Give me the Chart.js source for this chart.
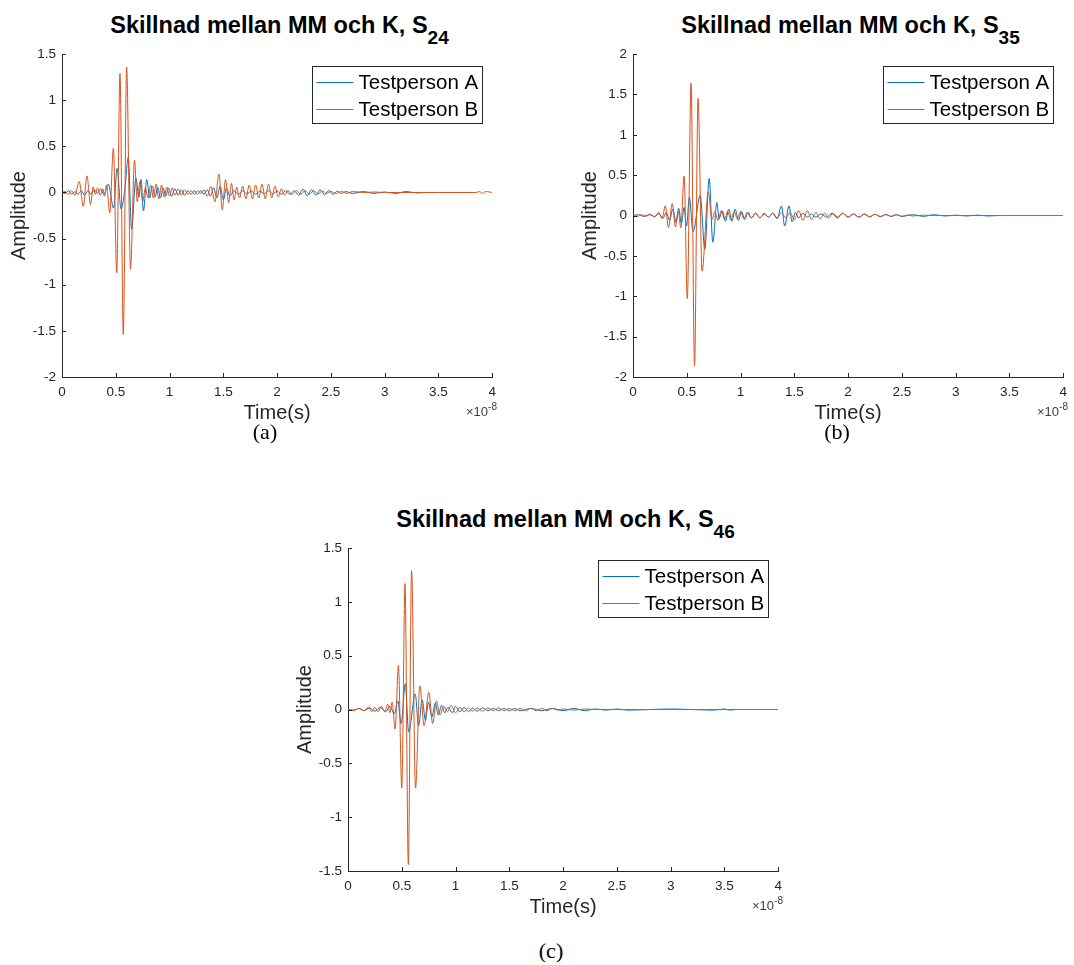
<!DOCTYPE html>
<html>
<head>
<meta charset="utf-8">
<title>Skillnad mellan MM och K</title>
<script src="https://cdn.jsdelivr.net/npm/chart.js@4.4.0/dist/chart.umd.min.js"></script>
<style>
  html, body { margin: 0; padding: 0; background: #fff; }
  body { width: 1074px; height: 965px; position: relative; overflow: hidden; font-family: "Liberation Sans", Arial, sans-serif; }
  canvas { position: absolute; }
  .title { position: absolute; font-weight: bold; font-size: 23.5px; line-height: 24px; color: #000; white-space: nowrap; transform: translateX(-50%); }
  .title span { font-size: 19px; position: relative; top: 10.5px; }
  .expo { position: absolute; font-size: 13px; line-height: 13px; color: #404040; white-space: nowrap; }
  .expo sup { font-size: 10px; vertical-align: 6px; line-height: 0; }
  .cap { position: absolute; font-family: "Liberation Serif", "DejaVu Serif", serif; font-size: 22px; line-height: 22px; transform: translateX(-50%); }
</style>
</head>
<body>
<script>
// time in units of 1e-8 s, amplitude

// (a) S24
const timeA24 = [0, 0.03, 0.06, 0.09, 0.12, 0.15, 0.18, 0.21, 0.24, 0.27,
  0.30, 0.33, 0.36, 0.39, 0.43, 0.48, 0.512, 0.549, 0.583, 0.616,
  0.647, 0.687, 0.715, 0.735, 0.757, 0.788, 0.815, 0.84, 0.865, 0.89,
  0.915, 0.94, 0.965, 0.99, 1.02, 1.05, 1.08, 1.11, 1.14, 1.17,
  1.2, 1.23, 1.26, 1.29, 1.32, 1.35, 1.38, 1.41, 1.44, 1.47,
  1.50, 1.53, 1.56, 1.6, 1.64, 1.68, 1.72, 1.76, 1.8, 1.84,
  1.88, 1.92, 1.96, 2.0, 2.04, 2.08, 2.12, 2.16, 2.2, 2.24,
  2.28, 2.32, 2.36, 2.4, 2.44, 2.48, 2.52, 2.56, 2.6, 2.64,
  2.7, 2.8, 2.9, 3.0, 3.1, 3.2, 3.3, 3.36];
const ampA24 = [0, -0.01, 0.02, -0.02, 0.01, -0.02, 0.02, -0.03, 0.02, -0.02,
  0.03, -0.01, 0.04, -0.02, 0.09, -0.17, 0.26, -0.18, 0.02, 0.38,
  -0.40, 0.155, -0.05, 0.14, -0.20, 0.14, -0.06, 0.07, -0.05, 0.06,
  -0.06, 0.05, -0.04, 0.05, -0.04, 0.04, -0.03, 0.03, -0.03, 0.02,
  -0.02, 0.02, -0.02, 0.02, -0.02, 0.03, -0.04, 0.05, -0.06, 0.07,
  -0.08, 0.05, -0.04, 0.02, -0.02, 0.02, -0.015, 0.015, -0.02, 0.015,
  -0.015, 0.02, -0.015, 0.015, -0.02, 0.02, -0.02, 0.02, -0.03, 0.035,
  -0.035, 0.03, -0.03, 0.03, -0.025, 0.02, -0.02, 0.015, -0.01, 0.01,
  -0.01, 0.01, -0.01, 0.005, -0.01, 0.01, -0.005, 0];
const timeB24 = [0, 0.03, 0.06, 0.09, 0.12, 0.16, 0.198, 0.232, 0.265, 0.29,
  0.31, 0.33, 0.355, 0.38, 0.395, 0.414, 0.444, 0.478, 0.509, 0.539,
  0.570, 0.601, 0.637, 0.674, 0.70, 0.725, 0.75, 0.775, 0.80, 0.825,
  0.85, 0.875, 0.90, 0.925, 0.95, 0.975, 1.0, 1.025, 1.05, 1.08,
  1.11, 1.14, 1.17, 1.2, 1.23, 1.26, 1.29, 1.32, 1.35, 1.385,
  1.422, 1.459, 1.49, 1.52, 1.55, 1.575, 1.6, 1.625, 1.65, 1.68,
  1.71, 1.74, 1.77, 1.8, 1.83, 1.86, 1.89, 1.92, 1.95, 1.98,
  2.01, 2.04, 2.07, 2.1, 2.14, 2.18, 2.22, 2.26, 2.3, 2.34,
  2.38, 2.42, 2.46, 2.5, 2.55, 2.6, 2.65, 2.7, 2.8, 2.9,
  3.0, 3.5, 3.85, 3.88, 3.91, 3.94, 4.0];
const ampB24 = [0, 0.01, -0.02, 0.02, -0.03, 0.12, -0.15, 0.18, -0.13, 0.06,
  -0.02, 0.05, -0.03, 0.04, -0.04, 0.08, -0.22, 0.48, -0.87, 1.29,
  -1.54, 1.36, -0.83, 0.35, -0.10, 0.12, -0.10, 0.05, -0.06, 0.08,
  -0.06, 0.09, -0.07, 0.08, -0.05, 0.06, -0.04, 0.05, -0.03, 0.04,
  -0.03, 0.03, -0.02, 0.02, -0.02, 0.02, -0.01, 0.03, -0.04, 0.065,
  -0.10, 0.20, -0.19, 0.14, -0.11, 0.10, -0.08, 0.06, -0.06, 0.07,
  -0.07, 0.08, -0.07, 0.08, -0.06, 0.09, -0.07, 0.09, -0.06, 0.07,
  -0.05, 0.04, -0.03, 0.02, -0.02, 0.02, -0.02, 0.02, -0.02, 0.02,
  -0.015, 0.015, -0.01, 0.01, -0.01, 0.01, -0.01, 0.01, 0, 0.005,
  0, 0, 0, 0.01, -0.01, 0.01, 0];

// (b) S35
const timeA35 = [0, 0.05, 0.1, 0.15, 0.2, 0.24, 0.28, 0.31, 0.34, 0.37,
  0.40, 0.425, 0.45, 0.475, 0.498, 0.524, 0.558, 0.625, 0.668, 0.708,
  0.742, 0.78, 0.80, 0.83, 0.86, 0.89, 0.92, 0.95, 0.98, 1.01,
  1.04, 1.07, 1.1, 1.14, 1.18, 1.22, 1.26, 1.3, 1.34, 1.38,
  1.41, 1.45, 1.48, 1.51, 1.54, 1.58, 1.62, 1.66, 1.7, 1.75,
  1.8, 1.85, 1.9, 1.95, 2.0, 2.05, 2.1, 2.15, 2.2, 2.25,
  2.3, 2.35, 2.4, 2.45, 2.5, 2.6, 2.7, 2.8, 2.9, 3.0,
  3.1, 3.2, 3.3, 3.38];
const ampA35 = [0, 0.01, -0.01, 0.01, -0.01, 0.02, -0.03, 0.04, -0.06, 0.08,
  -0.08, 0.09, -0.10, 0.10, -0.13, 0.23, -0.20, 0.25, -0.42, 0.46,
  -0.33, 0.16, -0.04, 0.06, -0.07, 0.08, -0.07, 0.08, -0.06, 0.05,
  -0.05, 0.04, -0.03, 0.03, -0.03, 0.02, -0.02, 0.03, -0.04, 0.12,
  -0.13, 0.12, -0.08, 0.04, -0.03, 0.03, -0.02, 0.02, -0.02, 0.02,
  -0.02, 0.03, -0.03, 0.03, -0.02, 0.02, -0.02, 0.02, -0.015, 0.015,
  -0.015, 0.015, -0.01, 0.01, -0.01, 0.01, -0.01, 0.01, -0.005, 0.005,
  -0.005, 0.005, -0.005, 0];
const timeB35 = [0, 0.04, 0.08, 0.12, 0.16, 0.2, 0.24, 0.27, 0.30, 0.33,
  0.365, 0.395, 0.42, 0.445, 0.475, 0.505, 0.540, 0.572, 0.605, 0.642,
  0.70, 0.735, 0.76, 0.79, 0.82, 0.85, 0.88, 0.91, 0.94, 0.97,
  1.0, 1.03, 1.06, 1.1, 1.14, 1.18, 1.22, 1.26, 1.3, 1.34,
  1.38, 1.42, 1.46, 1.5, 1.54, 1.58, 1.62, 1.66, 1.7, 1.74,
  1.78, 1.82, 1.86, 1.9, 1.95, 2.0, 2.05, 2.1, 2.15, 2.2,
  2.25, 2.3, 2.35, 2.4, 2.45, 2.5, 2.55, 2.6, 2.7, 2.8,
  2.9, 3.0, 4.0];
const ampB35 = [0, -0.01, 0.01, -0.01, 0.02, -0.02, 0.04, -0.04, 0.12, -0.15,
  0.15, -0.14, 0.05, -0.15, 0.49, -1.03, 1.64, -1.86, 1.45, -0.69,
  0.29, -0.05, 0.05, -0.06, 0.06, -0.05, 0.05, -0.06, 0.05, -0.04,
  0.05, -0.04, 0.04, -0.03, 0.03, -0.03, 0.03, -0.02, 0.03, -0.03,
  0.04, -0.03, 0.04, -0.05, 0.06, -0.06, 0.06, -0.05, 0.04, -0.04,
  0.03, -0.03, 0.03, -0.02, 0.03, -0.02, 0.02, -0.02, 0.015, -0.015,
  0.015, -0.01, 0.01, -0.01, 0.01, -0.01, 0.005, -0.005, 0.005, 0,
  0, 0, 0];

// (c) S46
const timeA46 = [0, 0.05, 0.1, 0.15, 0.2, 0.25, 0.3, 0.35, 0.39, 0.43,
  0.463, 0.494, 0.533, 0.564, 0.625, 0.656, 0.69, 0.72, 0.748, 0.78,
  0.81, 0.84, 0.87, 0.90, 0.93, 0.97, 1.0, 1.04, 1.08, 1.12,
  1.16, 1.2, 1.25, 1.3, 1.35, 1.4, 1.45, 1.5, 1.55, 1.6,
  1.7, 1.8, 1.9, 2.0, 2.1, 2.2, 2.3, 2.4, 2.5, 2.6,
  2.8, 3.0, 3.2, 3.4, 3.5, 3.55, 3.6];
const ampA46 = [0, -0.005, 0.01, -0.01, 0.015, -0.015, 0.02, -0.02, 0.03, -0.04,
  0.08, -0.13, 0.24, -0.21, 0.145, -0.15, 0.09, -0.10, 0.07, -0.07,
  0.06, -0.05, 0.04, -0.03, 0.02, -0.03, 0.03, -0.02, 0.02, -0.02,
  0.015, -0.015, 0.015, -0.01, 0.01, -0.01, 0.01, -0.01, 0.01, -0.01,
  0.01, -0.01, 0.01, -0.01, 0.01, -0.01, 0.005, -0.005, 0.005, -0.005,
  0, 0.005, 0, -0.005, 0.005, -0.005, 0];
const timeB46 = [0, 0.05, 0.1, 0.15, 0.19, 0.22, 0.25, 0.28, 0.31, 0.34,
  0.37, 0.39, 0.41, 0.438, 0.469, 0.50, 0.53, 0.561, 0.591, 0.628,
  0.668, 0.708, 0.751, 0.787, 0.822, 0.855, 0.89, 0.925, 0.96, 1.0,
  1.04, 1.08, 1.12, 1.16, 1.2, 1.25, 1.3, 1.35, 1.4, 1.45,
  1.5, 1.55, 1.6, 1.65, 1.7, 1.75, 1.8, 1.85, 1.9, 1.95,
  2.0, 2.1, 2.2, 2.3, 2.5, 3.0, 4.0];
const ampB46 = [0, -0.01, 0.01, -0.01, 0.025, -0.02, 0.02, -0.02, 0.03, -0.02,
  0.05, -0.03, 0.07, -0.18, 0.41, -0.73, 1.17, -1.44, 1.29, -0.73,
  0.22, -0.15, 0.16, -0.13, 0.08, -0.05, 0.03, -0.02, 0.04, -0.03,
  0.02, -0.02, 0.015, -0.015, 0.015, -0.015, 0.015, -0.01, 0.015, -0.01,
  0.01, -0.01, 0.01, -0.01, 0.01, -0.01, 0.01, -0.01, 0.01, -0.005,
  0.005, -0.005, 0.005, 0, 0, 0, 0];

const xTicks = [0, 0.5, 1, 1.5, 2, 2.5, 3, 3.5, 4];
const seriesNames = ['Testperson A', 'Testperson B'];

const BLUE = '#0072BD';
const ORANGE = '#D95319';
const AXIS = '#262626';
const FONT = '"Liberation Sans", Arial, Helvetica, sans-serif';

const panels = [
  { sub: '24', cap: '(a)', capX: 265, capY: 421, yMin: -2, yMax: 1.5,
    area: { l: 62, t: 53, r: 497, b: 377 },
    tA: timeA24, vA: ampA24, tB: timeB24, vB: ampB24 },
  { sub: '35', cap: '(b)', capX: 837, capY: 421, yMin: -2, yMax: 2,
    area: { l: 633, t: 53, r: 1068, b: 377 },
    tA: timeA35, vA: ampA35, tB: timeB35, vB: ampB35 },
  { sub: '46', cap: '(c)', capX: 551, capY: 940, yMin: -1.5, yMax: 1.5,
    area: { l: 348, t: 547, r: 783, b: 871 },
    tA: timeA46, vA: ampA46, tB: timeB46, vB: ampB46 }
];

// inward ticks and a boxed legend, MATLAB style
const matlabAxes = {
  id: 'matlabAxes',
  afterDraw(chart) {
    const { ctx, chartArea: ar, scales: { x, y } } = chart;
    ctx.save();
    ctx.strokeStyle = AXIS;
    ctx.lineWidth = 1;
    ctx.beginPath();
    x.ticks.forEach(t => {
      const px = Math.round(x.getPixelForValue(t.value)) + 0.5;
      ctx.moveTo(px, ar.bottom);
      ctx.lineTo(px, ar.bottom - 4);
    });
    y.ticks.forEach(t => {
      const py = Math.round(y.getPixelForValue(t.value)) + 0.5;
      ctx.moveTo(ar.left, py);
      ctx.lineTo(ar.left + 4, py);
    });
    ctx.stroke();

    const bw = 170, bh = 57;
    const bx = Math.round(ar.right - 10 - bw) + 0.5;
    const by = Math.round(ar.top + 12) + 0.5;
    ctx.fillStyle = '#fff';
    ctx.fillRect(bx, by, bw, bh);
    ctx.strokeStyle = AXIS;
    ctx.strokeRect(bx, by, bw, bh);
    ctx.font = '20.5px ' + FONT;
    ctx.textBaseline = 'middle';
    chart.data.datasets.forEach((ds, i) => {
      const ly = Math.round(by + 15 + i * 27) + 0.5;
      ctx.strokeStyle = ds.borderColor;
      ctx.beginPath();
      ctx.moveTo(bx + 4, ly);
      ctx.lineTo(bx + 41, ly);
      ctx.stroke();
      ctx.fillStyle = '#000';
      ctx.fillText(ds.label, bx + 46, ly + 1);
    });
    ctx.restore();
  }
};

function pts(ts, vs) {
  return ts.map((t, i) => ({ x: t, y: vs[i] }));
}

function fmt(v) {
  return String(+v.toFixed(2));
}

function makePanel(p) {
  const a = p.area;
  const left = a.l - 62, top = a.t - 13;
  const w = a.r - left + 6, h = a.b - top + 53;

  const title = document.createElement('div');
  title.className = 'title';
  title.style.left = ((a.l + a.r) / 2) + 'px';
  title.style.top = (a.t - 40) + 'px';
  title.innerHTML = 'Skillnad mellan MM och K, S<span>' + p.sub + '</span>';
  document.body.appendChild(title);

  const cv = document.createElement('canvas');
  cv.width = w;
  cv.height = h;
  cv.style.left = left + 'px';
  cv.style.top = top + 'px';
  document.body.appendChild(cv);

  const expo = document.createElement('div');
  expo.className = 'expo';
  expo.style.right = (1074 - a.r) + 'px';
  expo.style.top = (a.b + 28) + 'px';
  expo.innerHTML = '&times;10<sup>-8</sup>';
  document.body.appendChild(expo);

  const cap = document.createElement('div');
  cap.className = 'cap';
  cap.style.left = p.capX + 'px';
  cap.style.top = p.capY + 'px';
  cap.textContent = p.cap;
  document.body.appendChild(cap);

  new Chart(cv, {
    type: 'line',
    data: {
      datasets: [
        { label: seriesNames[0], data: pts(p.tA, p.vA), borderColor: BLUE, order: 2 },
        { label: seriesNames[1], data: pts(p.tB, p.vB), borderColor: ORANGE, order: 1 }
      ]
    },
    options: {
      responsive: false,
      animation: false,
      events: [],
      layout: { padding: { left: 0, top: 13, right: 6, bottom: 0 } },
      elements: {
        line: { borderWidth: 1, cubicInterpolationMode: 'monotone', fill: false },
        point: { radius: 0 }
      },
      plugins: { legend: { display: false }, tooltip: { enabled: false } },
      scales: {
        x: {
          type: 'linear', min: 0, max: 4,
          afterBuildTicks: s => { s.ticks = xTicks.map(v => ({ value: v })); },
          afterFit: s => { s.height = 53; },
          grid: { display: false, drawTicks: false },
          border: { display: true, color: AXIS, width: 1 },
          ticks: { padding: 7, color: AXIS, font: { family: FONT, size: 13.5 }, maxRotation: 0, callback: v => fmt(v) },
          title: { display: true, text: 'Time(s)', color: AXIS, font: { family: FONT, size: 20 }, padding: { top: 0, bottom: 5 } }
        },
        y: {
          type: 'linear', min: p.yMin, max: p.yMax,
          ticks: { stepSize: 0.5, padding: 6, color: AXIS, font: { family: FONT, size: 13.5 }, callback: v => fmt(v) },
          afterFit: s => { s.width = 62; },
          grid: { display: false, drawTicks: false },
          border: { display: true, color: AXIS, width: 1 },
          title: { display: true, text: 'Amplitude', color: AXIS, font: { family: FONT, size: 20 }, padding: { top: 7, bottom: 0 } }
        }
      }
    },
    plugins: [matlabAxes]
  });
}

panels.forEach(makePanel);
</script>
</body>
</html>
